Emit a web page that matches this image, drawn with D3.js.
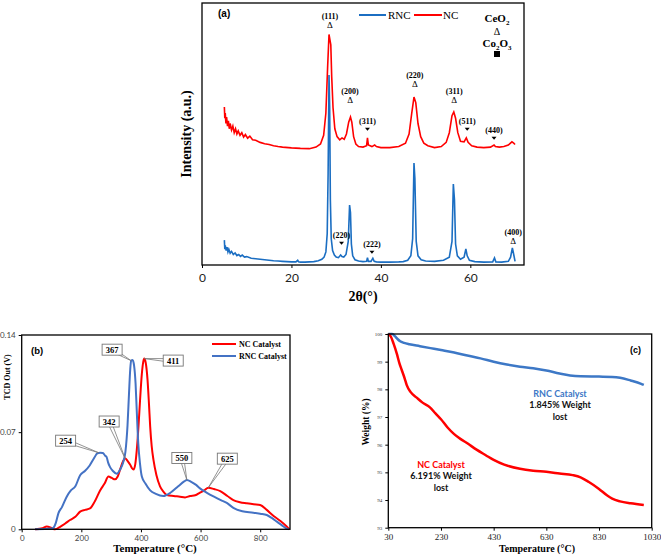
<!DOCTYPE html>
<html><head><meta charset="utf-8">
<script src="https://cdn.jsdelivr.net/npm/d3@7"></script>
<style>body{margin:0;background:#fff}svg{display:block}</style>
</head><body>
<svg id="chart" width="661" height="555"></svg>
<script>
// ---------- DATA ----------
// Panel (a) XRD: [2θ, intensity a.u.]
const xrdRNC = [[5.0,95],[5.1,60],[5.2,75],[5.4,55],[5.6,68],[5.8,50],[6.0,60],[6.3,45],[6.6,52],[7.0,40],[7.4,46],[7.8,36],[8.2,40],[8.6,33],[9.0,38],[9.5,30],[10,32],[11,26],[12,24],[13,22],[14,20],[15,18],[16,16],[17,15],[18,14],[19,13],[20,12],[21,12],[21.4,18],[21.6,12],[22,11],[23,11],[24,12],[25,13],[26,16],[26.8,22],[27.3,30],[27.7,50],[28.0,120],[28.2,350],[28.4,725],[28.55,600],[28.7,250],[28.9,100],[29.2,55],[29.6,38],[30.0,30],[30.5,28],[31.0,38],[31.3,32],[31.7,30],[32.2,40],[32.7,90],[33.0,229],[33.2,200],[33.4,80],[33.7,35],[34.2,20],[35,15],[36,13],[36.8,14],[37.0,28],[37.2,14],[37.8,14],[38.2,26],[38.5,14],[39,12],[40,11],[42,11],[44,12],[45,13],[46,18],[46.7,35],[47.1,100],[47.4,389],[47.6,330],[47.9,90],[48.3,35],[49,20],[50,15],[52,14],[54,18],[55.3,30],[55.9,90],[56.2,309],[56.45,250],[56.7,80],[57.1,35],[57.8,22],[58.6,30],[59.0,61],[59.3,35],[59.8,18],[61,13],[63,11],[65,12],[65.4,27],[65.7,12],[67,11],[68.5,14],[69.0,30],[69.4,65],[69.7,40],[70.0,14]];
const xrdNC = [[5.0,603],[5.1,560],[5.2,580],[5.35,540],[5.5,565],[5.7,530],[5.9,550],[6.1,520],[6.3,540],[6.6,515],[6.9,530],[7.2,505],[7.5,520],[7.8,500],[8.1,512],[8.5,495],[8.9,505],[9.3,488],[9.7,498],[10.2,484],[10.7,492],[11.3,478],[12,476],[13,468],[14,463],[15,460],[16,455],[17,452],[18,450],[20,447],[22,445],[24,444],[25.5,450],[26.5,462],[27.2,495],[27.7,580],[28.1,760],[28.4,880],[28.6,860],[28.8,840],[29.0,720],[29.3,600],[29.7,520],[30.2,490],[30.8,478],[31.3,485],[31.8,480],[32.3,500],[32.8,545],[33.2,565],[33.5,545],[33.9,490],[34.4,462],[35,452],[36,450],[36.8,455],[37.0,485],[37.2,458],[38,452],[38.6,458],[39,452],[40,448],[42,448],[44,452],[45.5,465],[46.3,500],[46.9,580],[47.4,641],[47.8,620],[48.3,540],[48.9,490],[49.6,465],[50.5,455],[52,448],[53.5,452],[54.6,468],[55.3,505],[55.9,570],[56.3,584],[56.7,560],[57.2,505],[57.8,472],[58.6,470],[59.1,485],[59.5,468],[60.3,455],[61.5,450],[63,448],[64.5,450],[65.3,458],[65.6,452],[66.5,450],[67.5,452],[68.5,458],[69.3,470],[69.7,465],[70.0,460]];
const xrdTicks = [0,20,40,60];
// peak labels: [2θ, label, marker, intensity of marker anchor]
const xrdLabelsNC = [[28.6,'(111)','Δ',905],[33.1,'(200)','Δ',620],[37.0,'(311)','▼',505],[47.6,'(220)','Δ',680],[56.4,'(311)','Δ',620],[59.3,'(511)','▼',505],[65.3,'(440)','▼',470]];
const xrdLabelsRNC = [[31.2,'(220)','▼',70],[38.0,'(222)','▼',35],[69.6,'(400)','Δ',80]];

// Panel (b) H2-TPR: [T °C, TCD V]
const tprNC = [[45,0],[70,0.0008],[84,0.002],[100,0.001],[112,0],[130,0.002],[145,0.004],[162,0.0067],[180,0.009],[196,0.0127],[212,0.014],[229,0.015],[245,0.02],[263,0.028],[278,0.033],[291,0.038],[302,0.037],[313,0.036],[322,0.038],[330,0.043],[340,0.049],[347,0.051],[356,0.049],[364,0.0465],[370,0.044],[375,0.043],[381,0.047],[386,0.057],[392,0.075],[397,0.093],[403,0.112],[408,0.121],[411,0.123],[416,0.12],[422,0.108],[427,0.09],[431,0.074],[436,0.06],[442,0.05],[452,0.039],[464,0.031],[476,0.027],[487,0.0247],[510,0.024],[531,0.0235],[548,0.023],[565,0.024],[582,0.0245],[598,0.0264],[612,0.028],[626,0.030],[645,0.029],[666,0.0275],[690,0.024],[710,0.021],[732,0.0195],[755,0.0187],[778,0.018],[800,0.0175],[822,0.014],[845,0.0096],[868,0.006],[889,0.002],[898,0]];
const tprRNC = [[45,0],[80,0.0003],[100,0.0005],[106,0.001],[115,0.005],[123,0.0115],[135,0.016],[151,0.0235],[165,0.028],[180,0.031],[196,0.039],[212,0.042],[228,0.046],[242,0.051],[254,0.0548],[263,0.0552],[272,0.055],[280,0.053],[285,0.052],[290,0.048],[296,0.045],[306,0.042],[319,0.040],[330,0.043],[340,0.048],[348,0.056],[355,0.075],[360,0.098],[364,0.115],[367,0.1215],[372,0.122],[377,0.118],[382,0.105],[386,0.085],[391,0.062],[397,0.047],[403,0.038],[415,0.033],[431,0.028],[450,0.0255],[475,0.024],[500,0.0265],[525,0.031],[545,0.0345],[554,0.0355],[570,0.034],[585,0.032],[598,0.0295],[620,0.0265],[645,0.0235],[668,0.021],[688,0.019],[710,0.0155],[740,0.013],[777,0.012],[800,0.0112],[822,0.0103],[840,0.008],[856,0.0055],[872,0.003],[889,0.0005],[895,0]];
const tprXTicks = [0,200,400,600,800];
const tprYTicks = [0,0.07,0.14];
const tprAnnot = [['367',367,0.1215],['411',411,0.123],['342',347,0.051],['254',258,0.0552],['550',554,0.0355],['625',626,0.030]];

// Panel (c) TGA: [T °C, weight %]
const tgaRNC = [[30,100],[45,100],[55,99.92],[65,99.82],[75,99.74],[90,99.68],[110,99.63],[150,99.56],[190,99.49],[230,99.42],[280,99.33],[330,99.22],[380,99.12],[430,99.0],[480,98.9],[530,98.82],[580,98.76],[630,98.68],[680,98.57],[720,98.5],[760,98.47],[830,98.46],[880,98.45],[910,98.42],[950,98.32],[990,98.2],[1000,98.16]];
const tgaNC = [[30,100],[40,99.9],[50,99.65],[62,99.3],[72,98.95],[81,98.7],[92,98.4],[100,98.15],[115,97.9],[138,97.7],[160,97.52],[188,97.35],[210,97.12],[230,96.92],[255,96.62],[280,96.38],[305,96.2],[330,96.05],[365,95.82],[400,95.62],[430,95.45],[470,95.28],[530,95.13],[580,95.06],[630,95.02],[680,94.96],[730,94.9],[760,94.82],[790,94.66],[830,94.4],[860,94.17],[880,94.05],[910,93.95],[950,93.88],[1000,93.82]];
const tgaXTicks = [30,230,430,630,830,1030];
const tgaYTicks = [93,94,95,96,97,98,99,100];

// ---------- DRAW ----------
const svg = d3.select('#chart');
const RED = '#ff0000';
const serif = "'Liberation Serif','Times New Roman',serif";
const sans = "'Liberation Sans',Arial,sans-serif";
const cal = "Lato,'Open Sans',sans-serif";

function frame(g, x0, y0, w, h){
  g.append('rect').attr('x',x0).attr('y',y0).attr('width',w).attr('height',h)
   .attr('fill','none').attr('stroke','#000').attr('stroke-width',1.3);
}

// ===== Panel (a) =====
{
  const L=202,R=524,T=3,B=265;
  const x=d3.scaleLinear().domain([0,72]).range([L,R]);
  const y=d3.scaleLinear().domain([0,1000]).range([B,T]);
  const g=svg.append('g');
  const ax=g.append('g').attr('transform',`translate(0,${B})`)
    .call(d3.axisBottom(x).tickValues(xrdTicks).tickSize(3).tickFormat(d3.format('d')));
  ax.select('.domain').remove();
  ax.selectAll('text').attr('font-family',cal).attr('font-size',12).attr('fill','#222').attr('dy','0.95em');
  const line=d3.line().x(d=>x(d[0])).y(d=>y(d[1]));
  g.append('path').datum(xrdRNC).attr('d',line).attr('fill','none').attr('stroke','#1b6ec2').attr('stroke-width',1.6);
  g.append('path').datum(xrdNC).attr('d',line).attr('fill','none').attr('stroke',RED).attr('stroke-width',1.6);
  frame(g,L,T,R-L,B-T);
  const lab=(arr)=>arr.forEach(([tt,txt,mk,v])=>{
    const px=x(tt), py=y(v);
    g.append('text').attr('x',px).attr('y',py-9).attr('text-anchor','middle')
      .attr('font-family',serif).attr('font-weight','bold').attr('font-size',8).text(txt);
    if(mk==='Δ'){
      g.append('text').attr('x',px).attr('y',py).attr('text-anchor','middle')
        .attr('font-family',serif).attr('font-size',9).text('Δ');
    } else {
      g.append('path').attr('d',`M${px-2.5},${py-5}L${px+2.5},${py-5}L${px},${py-2}Z`).attr('fill','#000');
    }
  });
  lab(xrdLabelsNC); lab(xrdLabelsRNC);
  g.append('text').attr('x',218).attr('y',17).attr('font-family',sans).attr('font-weight','bold').attr('font-size',10).text('(a)');
  // legend
  g.append('line').attr('x1',359).attr('x2',386).attr('y1',15).attr('y2',15).attr('stroke','#1b6ec2').attr('stroke-width',2);
  g.append('text').attr('x',388).attr('y',19).attr('font-family',serif).attr('font-size',11).text('RNC');
  g.append('line').attr('x1',414).attr('x2',442).attr('y1',15).attr('y2',15).attr('stroke',RED).attr('stroke-width',2);
  g.append('text').attr('x',443).attr('y',19).attr('font-family',serif).attr('font-size',11).text('NC');
  // phase key
  const k=g.append('text').attr('x',497).attr('y',22).attr('text-anchor','middle').attr('font-family',serif).attr('font-weight','bold').attr('font-size',11);
  k.append('tspan').text('CeO');k.append('tspan').attr('font-size',7).attr('dy',3).text('2');
  g.append('text').attr('x',497).attr('y',35).attr('text-anchor','middle').attr('font-family',serif).attr('font-size',10).text('Δ');
  const k2=g.append('text').attr('x',497).attr('y',47).attr('text-anchor','middle').attr('font-family',serif).attr('font-weight','bold').attr('font-size',11);
  k2.append('tspan').text('Co');k2.append('tspan').attr('font-size',7).attr('dy',3).text('2');
  k2.append('tspan').attr('dy',-3).text('O');k2.append('tspan').attr('font-size',7).attr('dy',3).text('3');
  g.append('rect').attr('x',494).attr('y',51).attr('width',6).attr('height',6).attr('fill','#000');
  g.append('text').attr('x',363).attr('y',301).attr('text-anchor','middle').attr('font-family',serif).attr('font-weight','bold').attr('font-size',14).text('2θ(°)');
  g.append('text').attr('transform',`translate(191,${(T+B)/2}) rotate(-90)`).attr('text-anchor','middle')
    .attr('font-family',serif).attr('font-weight','bold').attr('font-size',14).text('Intensity (a.u.)');
}

// ===== Panel (b) =====
{
  const L=21.7,R=290,T=335,B=529.3;
  const x=d3.scaleLinear().domain([0,900]).range([L,R]);
  const y=d3.scaleLinear().domain([0,0.14]).range([B,T]);
  const g=svg.append('g');
  const ax=g.append('g').attr('transform',`translate(0,${B})`)
    .call(d3.axisBottom(x).tickValues(tprXTicks).tickSize(3));
  ax.select('.domain').remove();
  ax.selectAll('text').attr('font-family',cal).attr('font-size',8).attr('fill','#444');
  const ay=g.append('g').attr('transform',`translate(${L},0)`)
    .call(d3.axisLeft(y).tickValues(tprYTicks).tickSize(3).tickFormat(d=>d===0?'0':d3.format('.2f')(d)));
  ay.select('.domain').remove();
  ay.selectAll('text').attr('font-family',cal).attr('font-size',8).attr('fill','#444');
  const line=d3.line().x(d=>x(d[0])).y(d=>y(d[1])).curve(d3.curveMonotoneX);
  g.append('path').datum(tprNC).attr('d',line).attr('fill','none').attr('stroke',RED).attr('stroke-width',2);
  g.append('path').datum(tprRNC).attr('d',line).attr('fill','none').attr('stroke','#4472c4').attr('stroke-width',2);
  frame(g,L,T,R-L,B-T);
  // callouts: box centre offsets relative to point (layout)
  const off={'367':[-19,-11],'411':[29,2],'342':[-16,-37],'254':[-33,-12],'550':[-5,-22],'625':[19,-29]};
  tprAnnot.forEach(([txt,t,v])=>{
    const px=x(t), py=y(v); const [dx,dy]=off[txt];
    const cx=px+dx, cy=py+dy, w=20, h=11;
    const ang=Math.atan2(py-cy,px-cx), nx=-Math.sin(ang)*2, ny=Math.cos(ang)*2;
    g.append('path').attr('d',`M${cx+nx},${cy+ny}L${px},${py}L${cx-nx},${cy-ny}`)
      .attr('fill','none').attr('stroke','#777').attr('stroke-width',0.8);
    g.append('rect').attr('x',cx-w/2).attr('y',cy-h/2).attr('width',w).attr('height',h)
      .attr('fill','#fff').attr('stroke','#777').attr('stroke-width',0.9);
    g.append('text').attr('x',cx).attr('y',cy+3).attr('text-anchor','middle')
      .attr('font-family',serif).attr('font-weight','bold').attr('font-size',8.5).text(txt);
  });
  g.append('text').attr('x',31).attr('y',354).attr('font-family',sans).attr('font-weight','bold').attr('font-size',9.5).text('(b)');
  g.append('line').attr('x1',212).attr('x2',236).attr('y1',344).attr('y2',344).attr('stroke',RED).attr('stroke-width',2);
  g.append('text').attr('x',239).attr('y',347).attr('font-family',serif).attr('font-weight','bold').attr('font-size',8).text('NC Catalyst');
  g.append('line').attr('x1',212).attr('x2',236).attr('y1',356).attr('y2',356).attr('stroke','#4472c4').attr('stroke-width',2);
  g.append('text').attr('x',239).attr('y',359).attr('font-family',serif).attr('font-weight','bold').attr('font-size',8).text('RNC Catalyst');
  g.append('text').attr('x',155).attr('y',552).attr('text-anchor','middle').attr('font-family',serif).attr('font-weight','bold').attr('font-size',11).text('Temperature (°C)');
  g.append('text').attr('transform','translate(10,377) rotate(-90)').attr('text-anchor','middle')
    .attr('font-family',serif).attr('font-weight','bold').attr('font-size',8).text('TCD Out (V)');
}

// ===== Panel (c) =====
{
  const L=388.3,R=651.7,T=334,B=527.7;
  const x=d3.scaleLinear().domain([30,1030]).range([L,R]);
  const y=d3.scaleLinear().domain([93,100]).range([B,T]);
  const g=svg.append('g');
  const ax=g.append('g').attr('transform',`translate(0,${B})`)
    .call(d3.axisBottom(x).tickValues(tgaXTicks).tickSize(3).tickFormat(d3.format('d')));
  ax.select('.domain').remove();
  ax.selectAll('text').attr('font-family',serif).attr('font-size',9).attr('fill','#222');
  const ay=g.append('g').attr('transform',`translate(${L},0)`)
    .call(d3.axisLeft(y).tickValues(tgaYTicks).tickSize(3).tickFormat(d3.format('d')));
  ay.select('.domain').remove();
  ay.selectAll('text').attr('font-family',serif).attr('font-size',5).attr('fill','#333');
  const line=d3.line().x(d=>x(d[0])).y(d=>y(d[1])).curve(d3.curveMonotoneX);
  g.append('path').datum(tgaRNC).attr('d',line).attr('fill','none').attr('stroke','#3d78c6').attr('stroke-width',2.5);
  g.append('path').datum(tgaNC).attr('d',line).attr('fill','none').attr('stroke',RED).attr('stroke-width',2.5);
  frame(g,L,T,R-L,B-T);
  g.append('text').attr('x',630).attr('y',353).attr('font-family',sans).attr('font-weight','bold').attr('font-size',9).text('(c)');
  const tb=(tx,ty,lines,col)=>lines.forEach((s,i)=>g.append('text').attr('x',tx).attr('y',ty+i*11.3)
     .attr('text-anchor','middle').attr('font-family',cal).attr('font-weight','bold').attr('font-size',9)
     .attr('fill',i===0?col:'#111').text(s));
  tb(560,397,['RNC Catalyst','1.845% Weight','lost'],'#3d78c6');
  tb(441,468,['NC Catalyst','6.191% Weight','lost'],RED);
  g.append('text').attr('x',537).attr('y',552).attr('text-anchor','middle').attr('font-family',serif).attr('font-weight','bold').attr('font-size',10).text('Temperature (°C)');
  g.append('text').attr('transform','translate(369,422) rotate(-90)').attr('text-anchor','middle')
    .attr('font-family',serif).attr('font-weight','bold').attr('font-size',9.5).text('Weight (%)');
}
</script>
</body></html>
